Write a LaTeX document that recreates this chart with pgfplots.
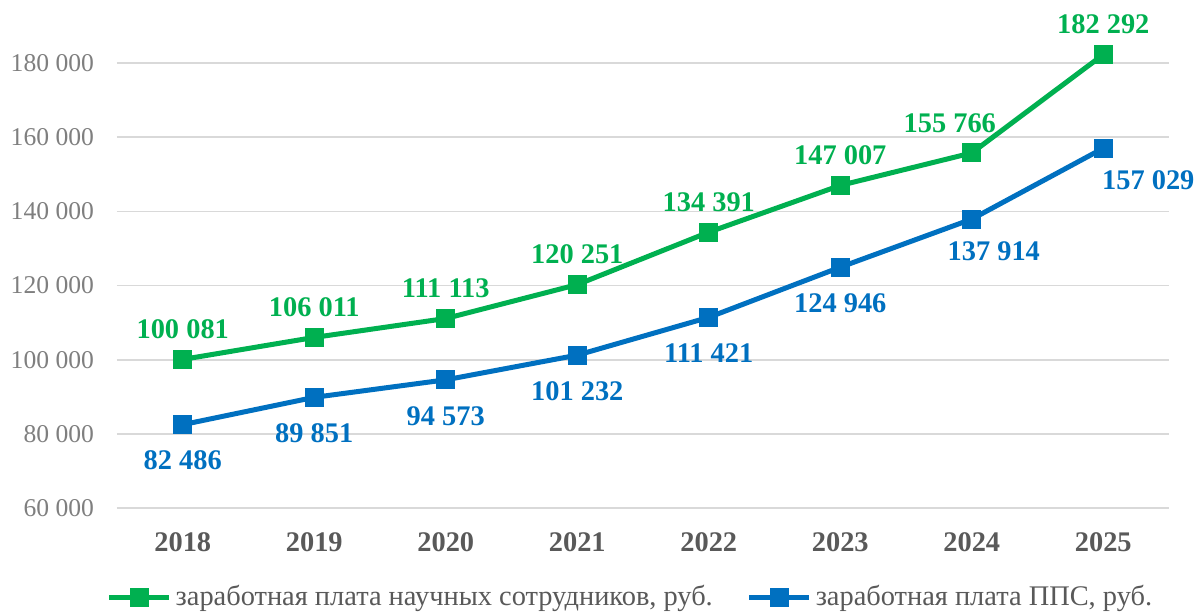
\documentclass[border=0pt]{standalone}
\usepackage{pgfplots}
\pgfplotsset{compat=1.18}
\usepackage{fontspec}
\setmainfont{Liberation Serif}
\definecolor{sgreen}{HTML}{00B050}
\definecolor{sblue}{HTML}{0070C0}
\definecolor{gridgray}{HTML}{D9D9D9}
\definecolor{ticktext}{HTML}{7F7F7F}
\definecolor{yeartext}{HTML}{595959}
\begin{document}
\begin{tikzpicture}
\begin{axis}[name=ax,
  scale only axis, width=526pt, height=241pt,
  xmin=-0.5, xmax=7.5, ymin=60000, ymax=190000,
  axis line style={draw=none}, clip=false,
  scaled y ticks=false,
  xtick={0,...,7}, xticklabels={2018,2019,2020,2021,2022,2023,2024,2025},
  ytick={60000,80000,...,180000},
  yticklabels={60 000,80 000,100 000,120 000,140 000,160 000,180 000},
  major tick length=0pt,
  ymajorgrids, grid style={gridgray, line width=0.8pt},
  yticklabel style={font=\fontsize{12.8}{14}\selectfont, text=ticktext, xshift=-8pt},
  xticklabel style={font=\fontsize{14.2}{16}\selectfont\bfseries, text=yeartext, yshift=-9pt},
  legend style={draw=none, at={(0.489,-0.185)}, anchor=center,
    font=\fontsize{14.2}{16}\selectfont, text=yeartext,
    /tikz/every even column/.append style={column sep=15pt}},
  legend columns=2,
  legend image code/.code={\draw[#1, mark repeat=2, mark phase=2] plot coordinates {(0pt,0pt) (15pt,0pt) (30pt,0pt)};},
  point meta=explicit symbolic,
  nodes near coords,
  every node near coord/.append style={font=\fontsize{14.2}{16}\selectfont\bfseries, anchor=center},
]
\addplot[sgreen, line width=2.5pt, mark=square*, mark size=3.5pt, mark options={solid},
  every node near coord/.append style={text=sgreen, yshift=15pt}]
coordinates {(0,100081) [100 081] (1,106011) [106 011] (2,111113) [111 113] (3,120251) [120 251]
  (4,134391) [134 391] (5,147007) [147 007] (6,155766) [] (7,182292) [182 292]};
\addlegendentry{заработная плата научных сотрудников, руб.}
\addplot[sblue, line width=2.5pt, mark=square*, mark size=3.5pt, mark options={solid},
  every node near coord/.append style={text=sblue, yshift=-18pt}]
coordinates {(0,82486) [82 486] (1,89851) [89 851] (2,94573) [94 573] (3,101232) [101 232]
  (4,111421) [111 421] (5,124946) [124 946] (6,137914) [] (7,157029) []};
\addlegendentry{заработная плата ППС, руб.}
\addplot[draw=none, mark=none, forget plot,
  every node near coord/.append style={text=sgreen, xshift=-11pt, yshift=15pt}]
coordinates {(6,155766) [155 766]};
\addplot[draw=none, mark=none, forget plot,
  every node near coord/.append style={text=sblue, xshift=11pt, yshift=-16pt}]
coordinates {(6,137914) [137 914]};
\addplot[draw=none, mark=none, forget plot,
  every node near coord/.append style={text=sblue, xshift=22.5pt, yshift=-16pt}]
coordinates {(7,157029) [157 029]};
\end{axis}
\pgfresetboundingbox
\path ([shift={(-58.5pt,-52pt)}]ax.south west) rectangle ([shift={(14.5pt,13pt)}]ax.north east);
\end{tikzpicture}
\end{document}
